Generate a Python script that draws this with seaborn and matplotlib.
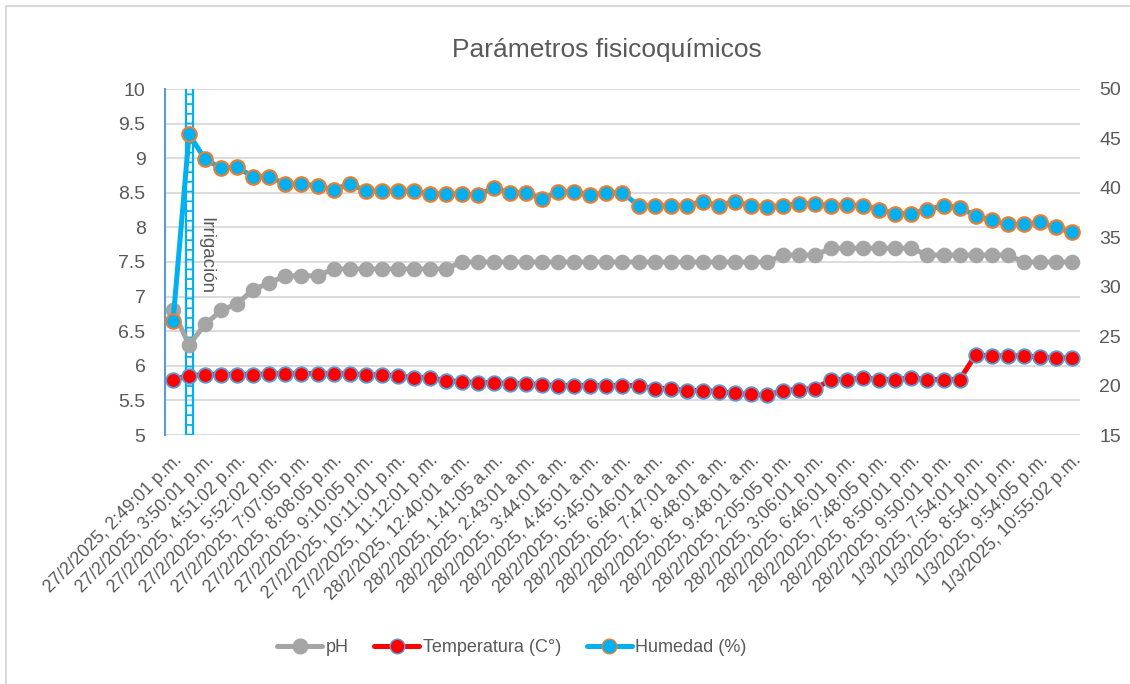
import numpy as np
import pandas as pd
import matplotlib
matplotlib.use("Agg")
import matplotlib.pyplot as plt
from matplotlib.patches import Rectangle
from matplotlib.lines import Line2D
import seaborn as sns

'data'
ph = [6.8, 6.3, 6.6, 6.8, 6.9, 7.1, 7.2, 7.3, 7.3, 7.3,
      7.4, 7.4, 7.4, 7.4, 7.4, 7.4, 7.4, 7.4, 7.5, 7.5,
      7.5, 7.5, 7.5, 7.5, 7.5, 7.5, 7.5, 7.5, 7.5, 7.5,
      7.5, 7.5, 7.5, 7.5, 7.5, 7.5, 7.5, 7.5, 7.6, 7.6,
      7.6, 7.7, 7.7, 7.7, 7.7, 7.7, 7.7, 7.6, 7.6, 7.6,
      7.6, 7.6, 7.6, 7.5, 7.5, 7.5, 7.5]
temperatura = [20.6, 21.0, 21.1, 21.1, 21.1, 21.1, 21.2, 21.2, 21.2, 21.2,
               21.2, 21.2, 21.1, 21.1, 21.0, 20.8, 20.8, 20.5, 20.4, 20.3,
               20.3, 20.2, 20.2, 20.1, 20.0, 20.0, 20.0, 20.0, 20.0, 20.0,
               19.7, 19.7, 19.5, 19.5, 19.4, 19.2, 19.1, 19.0, 19.5, 19.6,
               19.7, 20.6, 20.6, 20.8, 20.6, 20.6, 20.8, 20.6, 20.6, 20.6,
               23.1, 23.0, 23.0, 23.0, 22.9, 22.8, 22.8]
humedad = [26.5, 45.4, 42.9, 42.0, 42.1, 41.1, 41.1, 40.4, 40.4, 40.2,
           39.8, 40.4, 39.7, 39.7, 39.7, 39.7, 39.4, 39.4, 39.4, 39.3,
           40.0, 39.5, 39.5, 38.9, 39.6, 39.6, 39.3, 39.5, 39.5, 38.2,
           38.2, 38.2, 38.2, 38.6, 38.2, 38.6, 38.2, 38.1, 38.2, 38.4,
           38.4, 38.2, 38.3, 38.2, 37.8, 37.4, 37.4, 37.8, 38.2, 38.0,
           37.2, 36.7, 36.3, 36.3, 36.5, 36.0, 35.5]
tick_labels = ["27/2/2025, 2:49:01 p.m.", "27/2/2025, 3:50:01 p.m.",
               "27/2/2025, 4:51:02 p.m.", "27/2/2025, 5:52:02 p.m.",
               "27/2/2025, 7:07:05 p.m.", "27/2/2025, 8:08:05 p.m.",
               "27/2/2025, 9:10:05 p.m.", "27/2/2025, 10:11:01 p.m.",
               "27/2/2025, 11:12:01 p.m.", "28/2/2025, 12:40:01 a.m.",
               "28/2/2025, 1:41:05 a.m.", "28/2/2025, 2:43:01 a.m.",
               "28/2/2025, 3:44:01 a.m.", "28/2/2025, 4:45:01 a.m.",
               "28/2/2025, 5:45:01 a.m.", "28/2/2025, 6:46:01 a.m.",
               "28/2/2025, 7:47:01 a.m.", "28/2/2025, 8:48:01 a.m.",
               "28/2/2025, 9:48:01 a.m.", "28/2/2025, 2:05:05 p.m.",
               "28/2/2025, 3:06:01 p.m.", "28/2/2025, 6:46:01 p.m.",
               "28/2/2025, 7:48:05 p.m.", "28/2/2025, 8:50:01 p.m.",
               "28/2/2025, 9:50:01 p.m.", "1/3/2025, 7:54:01 p.m.",
               "1/3/2025, 8:54:01 p.m.", "1/3/2025, 9:54:05 p.m.",
               "1/3/2025, 10:55:02 p.m."]
irrigacion_idx = 1

df = pd.DataFrame({"idx": np.arange(len(ph)), "pH": ph,
                   "Temperatura": temperatura, "Humedad": humedad})

sns.set_theme(style="white")
plt.rcParams['font.family'] = ['Liberation Sans', 'DejaVu Sans']
txt = '#595959'

fig = plt.figure(figsize=(11.3, 6.84), dpi=100)
ax = fig.add_axes([165 / 1130, 1 - 435 / 684, 915 / 1130, 346 / 684])
ax2 = ax.twinx()

# outer chart border
fig.patches.append(Rectangle((6 / 1130, -0.05), 1.0, 1.05 - 6 / 684,
                             transform=fig.transFigure, fill=False,
                             edgecolor='#D9D9D9', linewidth=1.5))

'irrigation marker (ladder)'
for dx in (-0.22, 0.22):
    ax.axvline(irrigacion_idx + dx, color='#00B0F0', lw=1.6, zorder=1)
ax.axvline(irrigacion_idx, color='#00B0F0', lw=5, zorder=1,
           dashes=(0.25, 1.15))
ax.text(irrigacion_idx + 0.5, 7.6, "Irrigación", rotation=270,
        ha='left', va='center', fontsize=13.5, color=txt)

'series'
sns.lineplot(data=df, x="idx", y="pH", ax=ax, color='#A5A5A5', lw=3.6,
             marker='o', markersize=10.5, markeredgecolor='#A5A5A5',
             zorder=3, legend=False)
sns.lineplot(data=df, x="idx", y="Temperatura", ax=ax2, color='#FF0000',
             lw=3.6, marker='o', markersize=10.5, markeredgecolor='#5B9BD5',
             markeredgewidth=1.3, zorder=3, legend=False)
sns.lineplot(data=df, x="idx", y="Humedad", ax=ax2, color='#00B0F0',
             lw=3.6, marker='o', markersize=10.5, markeredgecolor='#ED7D31',
             markeredgewidth=1.5, zorder=4, legend=False)

ax.set_xlim(-0.5, len(ph) - 0.5)
ax.set_ylim(5, 10)
ax2.set_ylim(15, 50)
ax.set_yticks(np.arange(5, 10.01, 0.5))
ax.set_yticklabels([f"{v:g}" for v in np.arange(5, 10.01, 0.5)])
ax2.set_yticks(np.arange(15, 50.1, 5))
ax.set_xticks(np.arange(0, len(ph), 2))
ax.set_xticklabels(tick_labels, rotation=45, ha='right',
                   rotation_mode='anchor', fontsize=12.8, color=txt)
ax.tick_params(axis='y', labelsize=14, colors=txt, length=0, pad=14)
ax2.tick_params(axis='y', labelsize=14, colors=txt, length=0, pad=14)
ax.tick_params(axis='x', length=0, pad=12)
ax.set_xlabel("")
ax.set_ylabel("")
ax2.set_ylabel("")
ax.yaxis.grid(True, color='#D9D9D9', lw=1.3)
ax.set_axisbelow(True)
for a in (ax, ax2):
    for s in a.spines.values():
        s.set_visible(False)
ax.spines['left'].set_visible(True)
ax.spines['left'].set_color('#5B9BD5')
ax.spines['left'].set_linewidth(1.5)

fig.text(607 / 1130, 1 - 50 / 684, "Parámetros fisicoquímicos", ha='center',
         va='center', fontsize=19, color=txt)

handles = [
    Line2D([], [], color='#A5A5A5', lw=3.6, marker='o', markersize=10.5,
           markeredgecolor='#A5A5A5'),
    Line2D([], [], color='#FF0000', lw=3.6, marker='o', markersize=10.5,
           markeredgecolor='#5B9BD5'),
    Line2D([], [], color='#00B0F0', lw=3.6, marker='o', markersize=10.5,
           markeredgecolor='#ED7D31'),
]
fig.legend(handles, ["pH", "Temperatura (C°)", "Humedad (%)"], loc='center',
           bbox_to_anchor=(512 / 1130, 1 - 648 / 684), ncol=3, frameon=False,
           fontsize=13, labelcolor=txt, handlelength=2.5, columnspacing=1.4,
           handletextpad=0.2)

fig.savefig("out.png", dpi=100)
